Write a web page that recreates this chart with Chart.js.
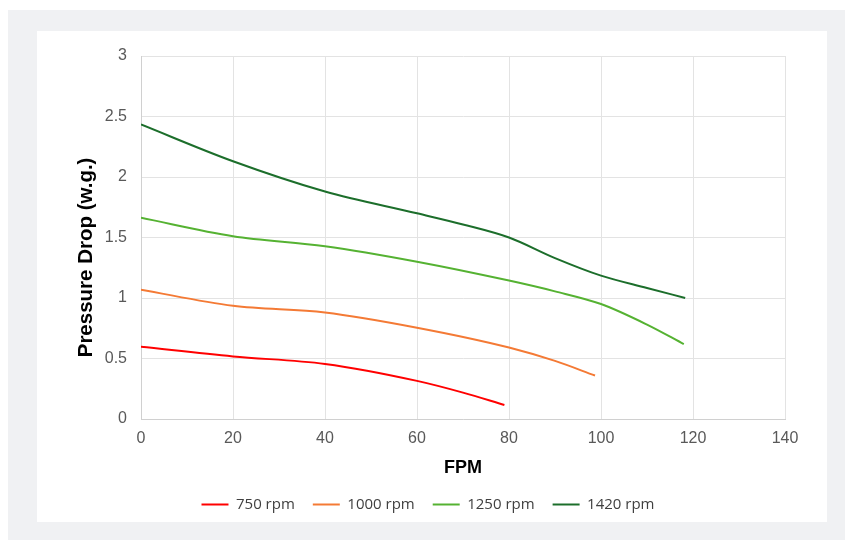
<!DOCTYPE html>
<html>
<head>
<meta charset="utf-8">
<script src="https://cdn.jsdelivr.net/npm/chart.js@4"></script>
<style>
  html, body { margin: 0; padding: 0; }
  body { width: 850px; height: 544px; background: #ffffff; position: relative; }
  #frame { position: absolute; left: 8px; top: 10px; width: 837px; height: 530px; background: #f0f1f3; }
  #panel { position: absolute; left: 37px; top: 31px; width: 790px; height: 491px; background: #ffffff; }
</style>
</head>
<body>
<div id="frame"></div>
<div id="panel"><canvas id="chart" width="790" height="491"></canvas></div>
<script>
// ==================== DATA ====================
const seriesNames = ['750 rpm', '1000 rpm', '1250 rpm', '1420 rpm'];

const fpm750 = [0, 20, 40, 60, 70, 79];
const dp750 = [0.597, 0.517, 0.455, 0.315, 0.218, 0.116];

const fpm1000 = [0, 20, 40, 60, 80, 90, 98.7];
const dp1000 = [1.069, 0.936, 0.881, 0.755, 0.591, 0.48, 0.359];

const fpm1250 = [0, 20, 40, 60, 80, 90, 100, 110, 118];
const dp1250 = [1.663, 1.511, 1.428, 1.30, 1.144, 1.055, 0.95, 0.78, 0.619];

const fpm1420 = [0, 20, 40, 60, 70, 80, 90, 100, 110, 118.3];
const dp1420 = [2.434, 2.13, 1.88, 1.70, 1.608, 1.5, 1.33, 1.185, 1.083, 1.0];

const xTicks = [0, 20, 40, 60, 80, 100, 120, 140];
const yTicks = [0, 0.5, 1, 1.5, 2, 2.5, 3];

const lineColors = ['#ff0000', '#f47a35', '#55b232', '#1c6e2b'];

// ==================== CHART ====================
function toPoints(xs, ys) {
    return xs.map((x, i) => ({ x: x, y: ys[i] }));
}

function makeDataset(idx, xs, ys) {
    return {
        label: seriesNames[idx],
        data: toPoints(xs, ys),
        borderColor: lineColors[idx],
        backgroundColor: lineColors[idx],
        borderWidth: 2,
        pointRadius: 0,
        cubicInterpolationMode: 'monotone',
        fill: false
    };
}

const tickFont = { family: 'Liberation Sans, Arial, sans-serif', size: 16 };
const titleFont = { family: 'Liberation Sans, Arial, sans-serif', size: 18, weight: 'bold' };

const ctx = document.getElementById('chart');
new Chart(ctx, {
    type: 'line',
    data: {
        datasets: [
            makeDataset(0, fpm750, dp750),
            makeDataset(1, fpm1000, dp1000),
            makeDataset(2, fpm1250, dp1250),
            makeDataset(3, fpm1420, dp1420)
        ]
    },
    options: {
        responsive: false,
        animation: false,
        layout: { padding: { left: 34, right: 42, top: 25, bottom: 0 } },
        plugins: {
            legend: {
                position: 'bottom',
                labels: {
                    usePointStyle: true,
                    pointStyle: 'line',
                    pointStyleWidth: 27,
                    padding: 18,
                    color: '#404040',
                    font: { family: 'Open Sans, sans-serif', size: 15 }
                }
            },
            tooltip: { enabled: false }
        },
        scales: {
            x: {
                type: 'linear',
                min: 0,
                max: 140,
                afterBuildTicks: function(scale) {
                    scale.ticks = xTicks.map(v => ({ value: v }));
                },
                afterFit: function(scale) { scale.height = 60; },
                grid: { color: '#e3e3e3', drawTicks: false },
                border: { color: '#d0d0d0' },
                ticks: {
                    padding: 10,
                    color: '#595959',
                    font: tickFont
                },
                title: {
                    display: true,
                    text: 'FPM',
                    color: '#000000',
                    padding: { top: 0, bottom: 0 },
                    font: titleFont
                }
            },
            y: {
                type: 'linear',
                min: 0,
                max: 3,
                afterBuildTicks: function(scale) {
                    scale.ticks = yTicks.map(v => ({ value: v }));
                },
                afterFit: function(scale) { scale.width = 70; },
                grid: { color: '#e3e3e3', drawTicks: false },
                border: { color: '#d0d0d0' },
                ticks: {
                    padding: 14,
                    color: '#595959',
                    font: tickFont,
                    callback: function(value) { return String(value); }
                },
                title: {
                    display: true,
                    // trailing spaces push the rotated title down a bit, like the original
                    text: 'Pressure Drop (w.g.)       ',
                    color: '#000000',
                    padding: { top: 3, bottom: 4 },
                    font: { family: 'Liberation Sans, Arial, sans-serif', size: 20.5, weight: 'bold' }
                }
            }
        }
    }
});
</script>
</body>
</html>
